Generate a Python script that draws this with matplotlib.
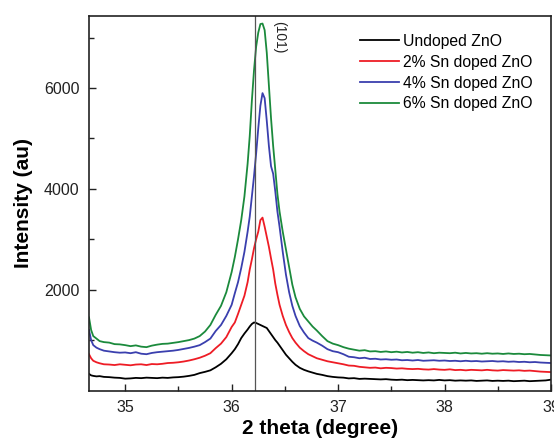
import matplotlib
matplotlib.use("Agg")
import matplotlib.pyplot as plt
from matplotlib.ticker import MultipleLocator, FixedLocator

plt.rcParams['font.family'] = ['Liberation Sans', 'DejaVu Sans']

two_theta = [
    34.66, 34.68, 34.70, 34.73, 34.76, 34.80, 34.85, 34.90, 34.95, 35.00,
    35.05, 35.10, 35.15, 35.20, 35.25, 35.30, 35.35, 35.40, 35.45, 35.50,
    35.55, 35.60, 35.65, 35.70, 35.75, 35.80, 35.85, 35.90, 35.95, 36.00,
    36.03, 36.06, 36.09, 36.12, 36.15, 36.17, 36.19, 36.21, 36.23, 36.25,
    36.27, 36.29, 36.31, 36.33, 36.35, 36.37, 36.39, 36.41, 36.43, 36.45,
    36.48, 36.51, 36.54, 36.57, 36.60, 36.64, 36.68, 36.72, 36.76, 36.80,
    36.85, 36.90, 36.95, 37.00, 37.05, 37.10, 37.15, 37.20, 37.25, 37.30,
    37.35, 37.40, 37.45, 37.50, 37.55, 37.60, 37.65, 37.70, 37.75, 37.80,
    37.85, 37.90, 37.95, 38.00, 38.05, 38.10, 38.15, 38.20, 38.25, 38.30,
    38.35, 38.40, 38.45, 38.50, 38.55, 38.60, 38.65, 38.70, 38.75, 38.80,
    38.85, 38.90, 38.95, 39.00,
]

undoped = [
    330, 300, 290, 280, 285, 270, 265, 255, 250, 235,
    240, 250, 245, 255, 250, 245, 255, 250, 260, 265,
    275, 290, 310, 345, 370, 400, 460, 530, 620, 740,
    820, 920, 1040, 1130, 1210, 1270, 1320, 1350, 1340, 1320,
    1300, 1280, 1260, 1240, 1180, 1120, 1060, 1000, 950, 890,
    800, 710, 640, 570, 510, 450, 410, 380, 355, 330,
    310, 285, 270, 260, 255, 240, 245, 230, 235, 230,
    225, 220, 225, 215, 210, 215, 205, 210, 205, 200,
    205, 200, 210, 200, 205, 195, 200, 195, 200, 190,
    195, 200, 190, 195, 190, 195, 185, 190, 195, 185,
    190, 195, 200, 215,
]

sn2 = [
    720, 640, 590, 560, 540, 520, 515, 505, 520, 510,
    500, 515, 520, 505, 525, 520, 530, 545, 550, 560,
    575, 595, 620, 650, 690, 740, 840, 930, 1060, 1260,
    1350, 1520, 1700, 1880, 2150, 2400, 2600, 2820, 3000, 3150,
    3380, 3430, 3250, 3050, 2850, 2620, 2400, 2120, 1900, 1700,
    1480, 1300, 1160, 1040, 950, 850, 780, 720, 680, 640,
    610, 580, 560, 540, 520, 495, 490, 470, 460, 450,
    455, 440, 450, 445, 435, 440, 430, 425, 430, 420,
    415, 425, 415, 410, 420, 405, 410, 400, 410, 405,
    400, 410, 400, 395, 405, 400, 395, 400, 390, 395,
    385, 375, 370, 365,
]

sn4 = [
    1200, 1000, 900, 850, 820, 790, 775, 760, 750, 755,
    740, 760, 730, 720, 745, 760, 770, 780, 790, 805,
    825, 845, 870, 900, 960, 1030, 1180, 1300, 1480, 1700,
    1930, 2150, 2430, 2750, 3150, 3450, 3850, 4250, 4700, 5200,
    5650, 5900, 5800, 5350, 4850, 4450, 4300, 3950, 3550, 3250,
    2750, 2300, 1950, 1680, 1480, 1280, 1150, 1040, 990, 950,
    890, 820, 780, 760, 720, 670, 660, 640, 650, 625,
    630, 615, 620, 610, 615, 600, 605, 595, 605, 590,
    595, 600, 590, 595, 585, 590, 580, 590, 580, 585,
    575, 580, 585, 575, 580, 570, 575, 565, 570, 560,
    565, 555, 550, 545,
]

sn6 = [
    1450, 1200, 1080, 1030, 980, 960, 950, 920, 915, 900,
    880, 895, 870, 860, 890, 910, 925, 930, 945, 960,
    980, 1000, 1030, 1080, 1170, 1300, 1500, 1680, 1950, 2350,
    2650, 3000, 3380, 3850, 4500, 5050, 5750, 6350, 6820, 7100,
    7270, 7280, 7150, 6700, 6050, 5400, 4850, 4380, 3900, 3550,
    3150, 2800, 2450, 2100, 1850, 1620, 1470, 1370, 1270, 1190,
    1080, 980, 930, 900, 860, 830, 810, 790, 800, 775,
    780, 765, 775, 760, 770, 755, 765, 750, 760, 745,
    755, 740, 750, 745, 740, 750, 735, 745, 735, 740,
    730, 740, 730, 735, 725, 735, 725, 730, 720, 725,
    715, 705, 700, 695,
]

labels = ["Undoped ZnO", "2% Sn doped ZnO", "4% Sn doped ZnO", "6% Sn doped ZnO"]
colors = ["#000000", "#ee1c25", "#3a3fae", "#1b8a3c"]
series = [undoped, sn2, sn4, sn6]

x_ticks = [35, 36, 37, 38, 39]
y_ticks = [2000, 4000, 6000]

peak_pos = 36.22
peak_label = "(101)"

fig = plt.figure(figsize=(5.54, 4.41), dpi=100)
ax = fig.add_axes([89/554, 1 - 390.5/441, (551-89)/554, (390.5-16)/441])

for y, c, lab in zip(series, colors, labels):
    ax.plot(two_theta, y, color=c, lw=1.3, label=lab)

ax.axvline(peak_pos, color="#555555", lw=0.9)
ax.text(36.45, 7330, peak_label, rotation=270, ha="center", va="top",
        fontsize=10, color="#222222", family="Liberation Sans")

ax.set_xlim(34.66, 39.0)
ax.set_ylim(0, 7430)
ax.xaxis.set_major_locator(FixedLocator(x_ticks))
ax.xaxis.set_minor_locator(MultipleLocator(0.5))
ax.yaxis.set_major_locator(FixedLocator(y_ticks))
ax.yaxis.set_minor_locator(FixedLocator([1000, 3000, 5000, 7000]))
ax.tick_params(which="both", direction="in", labelsize=11.5, colors="#222222", width=1.0)
ax.tick_params(which="major", length=5, pad=7)
ax.tick_params(which="minor", length=3.5)
for s in ax.spines.values():
    s.set_linewidth(1.2)
    s.set_color("#222222")

ax.set_xlabel("2 theta (degree)", fontsize=15, fontweight="bold", labelpad=3)
ax.set_ylabel("Intensity (au)", fontsize=15, fontweight="bold", labelpad=8)

ax.legend(loc="upper left", bbox_to_anchor=(0.586, 0.952), frameon=False,
          fontsize=11.3, handlelength=2.5, handletextpad=0.25, labelspacing=0.37,
          borderaxespad=0, borderpad=0)

fig.savefig("out.png", dpi=100)
